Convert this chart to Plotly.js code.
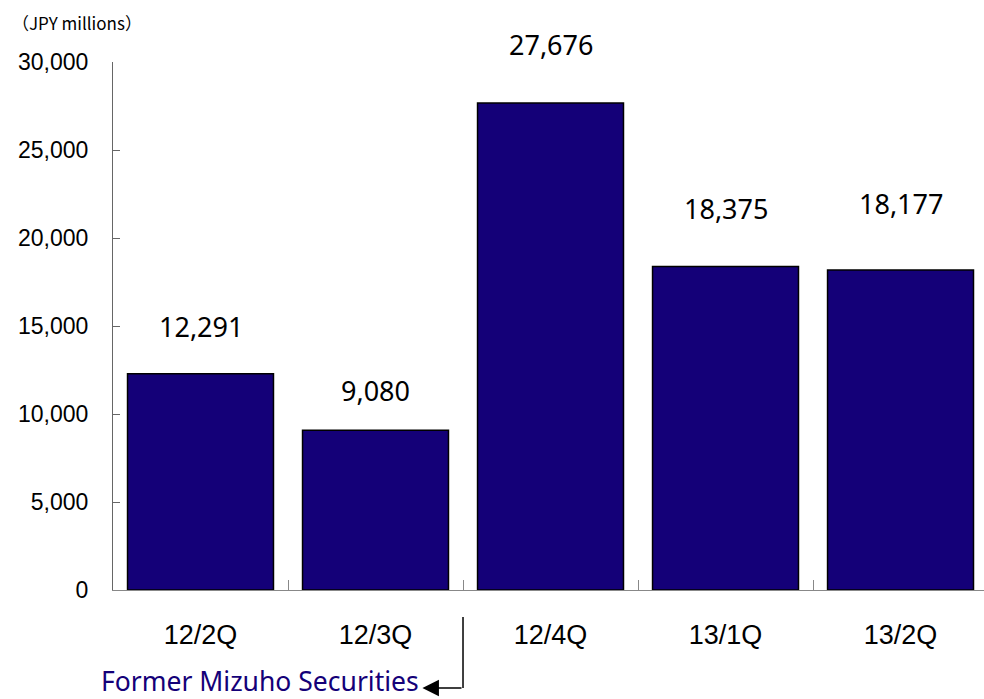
<!DOCTYPE html>
<html>
<head>
<meta charset="utf-8">
<script src="https://cdn.plot.ly/plotly-3.0.1.min.js"></script>
<style>html,body{margin:0;padding:0;background:#fff;}#chart{width:984px;height:699px;}</style>
</head>
<body>
<div id="chart"></div>
<script>
const categories = ["12/2Q", "12/3Q", "12/4Q", "13/1Q", "13/2Q"];
const values = [12291, 9080, 27676, 18375, 18177];
const valueLabels = ["12,291", "9,080", "27,676", "18,375", "18,177"];
const yTickVals = [0, 5000, 10000, 15000, 20000, 25000, 30000];
const yTickText = ["0", "5,000", "10,000", "15,000", "20,000", "25,000", "30,000"];
const unitLabel = "（JPY millions）";
const noteLabel = "Former Mizuho Securities";

// label offsets above bar tops (px), style only
const labelShift = [47, 40, 58, 58, 67];

const navy = "rgb(20,0,120)";

const trace = {
  type: "bar",
  x: categories,
  y: values,
  width: 0.834,
  marker: { color: navy, line: { color: "#000", width: 1.5 } },
  hoverinfo: "x+y"
};

const annotations = values.map((v, i) => ({
  x: categories[i], y: v, xref: "x", yref: "y",
  text: valueLabels[i], showarrow: false,
  xanchor: "center", yanchor: "middle", yshift: labelShift[i],
  font: { family: "Noto Sans", size: 27, color: "#000" }
}));

annotations.push({
  xref: "paper", yref: "paper", x: -0.118, y: 1.074, xanchor: "left", yanchor: "middle",
  text: unitLabel, showarrow: false,
  font: { family: "Noto Sans CJK JP", size: 17, color: "#000" }
});

annotations.push({
  xref: "x", yref: "paper", x: 1.262, y: -0.1715, xanchor: "right", yanchor: "middle",
  text: noteLabel, showarrow: false,
  font: { family: "Noto Sans", size: 26.5, color: navy }
});

// arrowhead pointing at the note text
annotations.push({
  xref: "x", yref: "paper", x: 1.268, y: -0.1856,
  axref: "x", ayref: "paper", ax: 1.5, ay: -0.1856,
  text: "", showarrow: true, arrowhead: 2, arrowsize: 2.2, arrowwidth: 1.5, arrowcolor: "#000"
});

const shapes = [{
  type: "line", xref: "x", yref: "paper",
  x0: 1.5, x1: 1.5, y0: -0.0511, y1: -0.1856,
  line: { color: "#000", width: 1.5 }
}];

const layout = {
  width: 984, height: 699,
  margin: { l: 113, r: 0, t: 62, b: 109, pad: 0 },
  paper_bgcolor: "#fff", plot_bgcolor: "#fff",
  showlegend: false,
  font: { family: "Liberation Sans", color: "#000" },
  xaxis: {
    type: "category",
    range: [-0.5, 4.477],
    tickson: "boundaries",
    ticks: "inside", ticklen: 10, tickwidth: 1, tickcolor: "#888",
    showline: true, linecolor: "#888", linewidth: 1,
    showgrid: false, zeroline: false,
    tickfont: { family: "Liberation Sans", size: 27, color: "#000" },
    ticklabelstandoff: 21,
    fixedrange: true
  },
  yaxis: {
    range: [0, 30000],
    tickvals: yTickVals, ticktext: yTickText,
    ticks: "inside", ticklen: 7, tickwidth: 1, tickcolor: "#666",
    showline: true, linecolor: "#666", linewidth: 1,
    showgrid: false, zeroline: false,
    tickfont: { family: "Liberation Sans", size: 23, color: "#000" },
    ticklabelstandoff: 19,
    fixedrange: true
  },
  annotations: annotations,
  shapes: shapes
};

Plotly.newPlot("chart", [trace], layout, { displayModeBar: false, staticPlot: true });
</script>
</body>
</html>
